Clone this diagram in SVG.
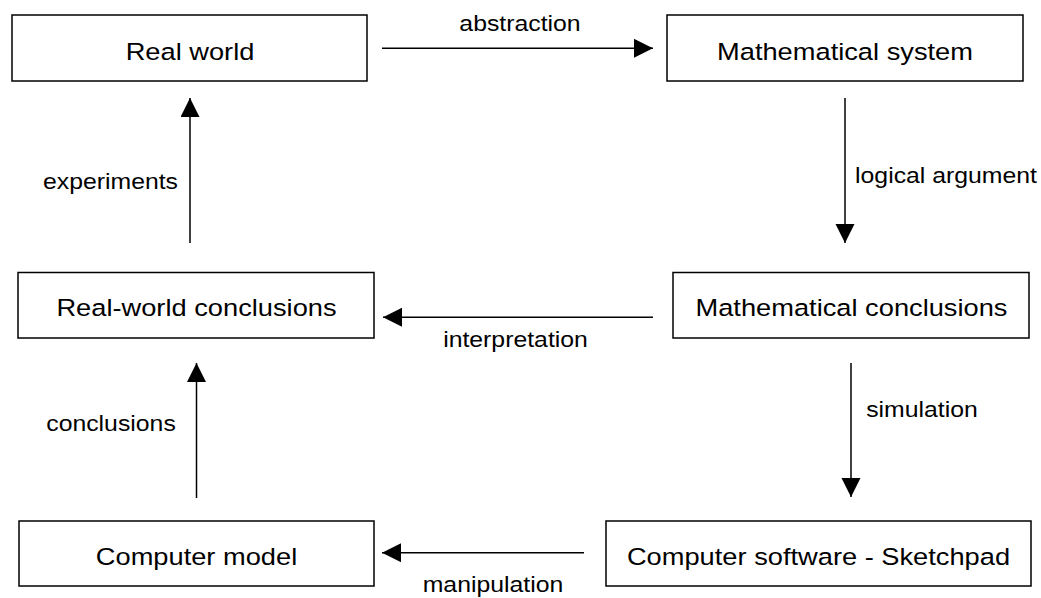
<svg xmlns="http://www.w3.org/2000/svg" width="1041" height="598" viewBox="0 0 1041 598">
  <style>
    .box { fill: #ffffff; stroke: #000000; stroke-width: 1.5; }
    .title { font-family: "Liberation Sans", Arial, sans-serif; font-size: 23.3px; fill: #000000; text-anchor: middle; }
    .label { font-family: "Liberation Sans", Arial, sans-serif; font-size: 21.2px; fill: #000000; text-anchor: middle; }
    .edge { fill: none; stroke: #000000; stroke-width: 1.5; marker-end: url(#arrow); }
  </style>
  <defs>
    <marker id="arrow" markerUnits="userSpaceOnUse" markerWidth="20" markerHeight="20" refX="19" refY="9.5" orient="auto">
      <path d="M0,0 L19,9.5 L0,19 Z" fill="#000000"/>
    </marker>
  </defs>
  <rect width="1041" height="598" fill="#ffffff"/>

  <g id="real-world">
    <rect class="box" x="12" y="15" width="355" height="66"/>
    <text class="title" transform="translate(190 59.5) scale(1.17 1)">Real world</text>
  </g>
  <g id="mathematical-system">
    <rect class="box" x="667" y="15" width="356" height="66"/>
    <text class="title" transform="translate(845 59.5) scale(1.17 1)">Mathematical system</text>
  </g>
  <g id="real-world-conclusions">
    <rect class="box" x="18" y="272.5" width="356" height="65.5"/>
    <text class="title" transform="translate(196.5 316) scale(1.17 1)">Real-world conclusions</text>
  </g>
  <g id="mathematical-conclusions">
    <rect class="box" x="673" y="272.5" width="356" height="65.5"/>
    <text class="title" transform="translate(851.5 315.5) scale(1.17 1)">Mathematical conclusions</text>
  </g>
  <g id="computer-model">
    <rect class="box" x="19" y="521" width="355" height="65"/>
    <text class="title" transform="translate(196.5 564.5) scale(1.17 1)">Computer model</text>
  </g>
  <g id="computer-software">
    <rect class="box" x="606" y="521" width="425" height="65"/>
    <text class="title" transform="translate(818.5 564.5) scale(1.17 1)">Computer software - Sketchpad</text>
  </g>

  <g id="connectors">
    <path class="edge" d="M382,48.3 L653,48.3"/>
    <path class="edge" d="M845,98 L845,243"/>
    <path class="edge" d="M653,317.3 L383,317.3"/>
    <path class="edge" d="M190,243 L190,98"/>
    <path class="edge" d="M851,363 L851,497"/>
    <path class="edge" d="M196.5,498 L196.5,363"/>
    <path class="edge" d="M584,552.7 L382,552.7"/>

    <text class="label" transform="translate(520 31) scale(1.17 1)">abstraction</text>
    <text class="label" transform="translate(946 183) scale(1.17 1)">logical argument</text>
    <text class="label" transform="translate(515.5 346.5) scale(1.17 1)">interpretation</text>
    <text class="label" transform="translate(110.5 189) scale(1.17 1)">experiments</text>
    <text class="label" transform="translate(922 417) scale(1.17 1)">simulation</text>
    <text class="label" transform="translate(111 431) scale(1.17 1)">conclusions</text>
    <text class="label" transform="translate(493 592) scale(1.17 1)">manipulation</text>
  </g>
</svg>
